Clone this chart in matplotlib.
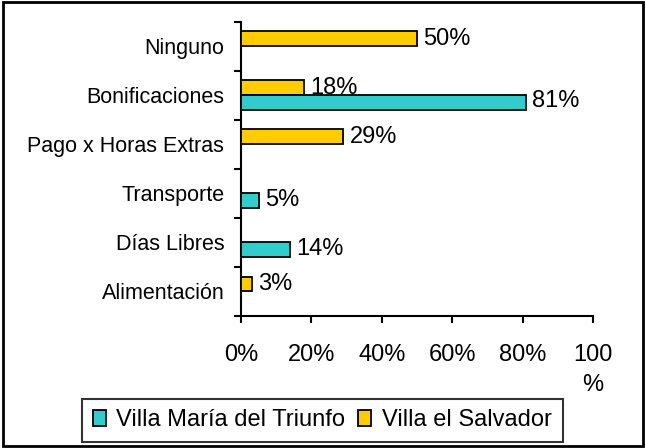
import matplotlib
matplotlib.use("Agg")
import matplotlib.pyplot as plt
import numpy as np
from matplotlib.patches import Rectangle

plt.rcParams['font.family'] = ['Liberation Sans', 'DejaVu Sans']

# Data (categories listed top to bottom)
categories = ['Ninguno', 'Bonificaciones', 'Pago x Horas Extras',
              'Transporte', 'Días Libres', 'Alimentación']
vmt = [0, 81, 0, 5, 14, 0]      # Villa María del Triunfo
ves = [50, 18, 29, 0, 0, 3]     # Villa el Salvador
x_ticks = [0, 20, 40, 60, 80, 100]
x_tick_labels = ['0%', '20%', '40%', '60%', '80%', '100\n%']

teal = '#33CCCC'
gold = '#FFCC00'

fig = plt.figure(figsize=(6.46, 4.48), dpi=100)
ax = fig.add_axes([0.373, 0.295, 0.545, 0.657])

y = np.arange(len(categories))
h = 0.3
ax.barh(y - h / 2, ves, height=h, color=gold, edgecolor='black', linewidth=1.3,
        label='Villa el Salvador', zorder=3)
ax.barh(y + h / 2, vmt, height=h, color=teal, edgecolor='black', linewidth=1.3,
        label='Villa María del Triunfo', zorder=3)

# value labels
for i, v in enumerate(ves):
    if v:
        ax.text(v + 1.8, i - h / 2 + 0.01, f'{v}%', va='center', ha='left', fontsize=17)
for i, v in enumerate(vmt):
    if v:
        ax.text(v + 1.8, i + h / 2 - 0.02, f'{v}%', va='center', ha='left', fontsize=17)

ax.set_xlim(0, 100)
ax.set_ylim(len(categories) - 0.5, -0.5)

ax.set_yticks(y)
ax.set_yticklabels(categories, fontsize=15.5)
ax.set_yticks(np.arange(-0.5, len(categories) + 0.5, 1), minor=True)
ax.tick_params(axis='y', which='major', length=0, pad=12)
ax.tick_params(axis='y', which='minor', length=5, width=1.5, direction='out')

ax.set_xticks(x_ticks)
ax.set_xticklabels(x_tick_labels, fontsize=17, linespacing=1.5)
ax.tick_params(axis='x', length=5, width=1.5, direction='out', pad=15)

for s in ['top', 'right']:
    ax.spines[s].set_visible(False)
for s in ['left', 'bottom']:
    ax.spines[s].set_linewidth(1.5)

handles, labels = ax.get_legend_handles_labels()
leg = fig.legend(handles[::-1], labels[::-1], loc='center', ncol=2,
                 bbox_to_anchor=(0.499, 0.062), fontsize=17, frameon=True,
                 fancybox=False, edgecolor='black', handlelength=0.55,
                 handleheight=0.7, handletextpad=0.45, columnspacing=0.55,
                 borderpad=0.45, borderaxespad=0)
leg.get_frame().set_linewidth(1.5)

# outer border
fig.patches.append(Rectangle((0.004, 0.004), 0.992, 0.992, transform=fig.transFigure,
                             fill=False, edgecolor='black', linewidth=2))

fig.savefig('out.png', dpi=100)
